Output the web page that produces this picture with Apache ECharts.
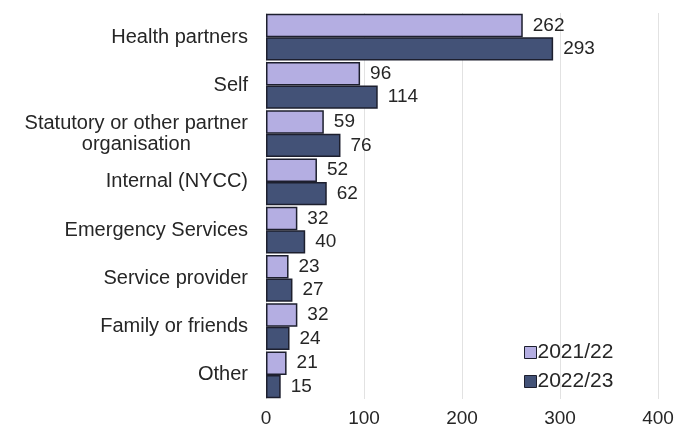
<!DOCTYPE html>
<html>
<head>
<meta charset="utf-8">
<script src="https://cdn.jsdelivr.net/npm/echarts@6/dist/echarts.min.js"></script>
<style>
  html, body { margin: 0; padding: 0; background: #ffffff; }
  #chart { width: 686px; height: 432px; }
</style>
</head>
<body>
<div id="chart"></div>
<script>
// Referral sources, listed top to bottom
const categories = [
  'Health partners',
  'Self',
  'Statutory or other partner\norganisation',
  'Internal (NYCC)',
  'Emergency Services',
  'Service provider',
  'Family or friends',
  'Other'
];
const seriesNames = ['2021/22', '2022/23'];
const values2021 = [262, 96, 59, 52, 32, 23, 32, 21];
const values2022 = [293, 114, 76, 62, 40, 27, 24, 15];
const xTicks = [0, 100, 200, 300, 400];

const FONT = '"Liberation Sans", Arial, sans-serif';
const TEXT = '#262626';
const colors = ['#b4aee2', '#435277'];

const chart = echarts.init(document.getElementById('chart'), null, { renderer: 'canvas' });

function barSeries(name, data, color) {
  return {
    name: name,
    type: 'bar',
    data: data,
    barGap: '0%',
    barCategoryGap: '3%',
    itemStyle: { color: color, borderColor: '#1d1f2e', borderWidth: 1.5 },
    label: {
      show: true,
      position: 'right',
      distance: 10,
      color: TEXT,
      fontFamily: FONT,
      fontSize: 19
    }
  };
}

chart.setOption({
  animation: false,
  backgroundColor: '#ffffff',
  grid: { left: 266, right: 28, top: 13, bottom: 33, containLabel: false },
  legend: {
    data: seriesNames,
    orient: 'vertical',
    left: 519,
    top: 337,
    itemWidth: 12,
    itemHeight: 12,
    itemGap: 8,
    icon: 'rect',
    itemStyle: { borderColor: '#1d1f2e', borderWidth: 1 },
    textStyle: { color: TEXT, fontFamily: FONT, fontSize: 21, padding: [0, 0, 0, -4] }
  },
  xAxis: {
    type: 'value',
    min: xTicks[0],
    max: xTicks[xTicks.length - 1],
    interval: xTicks[1] - xTicks[0],
    axisLine: { show: false },
    axisTick: { show: false },
    splitLine: { lineStyle: { color: '#e2e2e2', width: 1 } },
    axisLabel: { color: TEXT, fontFamily: FONT, fontSize: 19, margin: 10 }
  },
  yAxis: {
    type: 'category',
    data: categories,
    inverse: true,
    axisLine: { show: false },
    axisTick: { show: false },
    axisLabel: {
      color: TEXT,
      fontFamily: FONT,
      fontSize: 20,
      margin: 18,
      lineHeight: 21,
      formatter: function (v) {
        return v.split('\n').map(function (s) { return '{c|' + s + '}'; }).join('\n');
      },
      rich: { c: { align: 'center', color: TEXT, fontFamily: FONT, fontSize: 20, lineHeight: 21 } }
    }
  },
  series: [
    barSeries(seriesNames[0], values2021, colors[0]),
    barSeries(seriesNames[1], values2022, colors[1])
  ]
});
</script>
</body>
</html>
